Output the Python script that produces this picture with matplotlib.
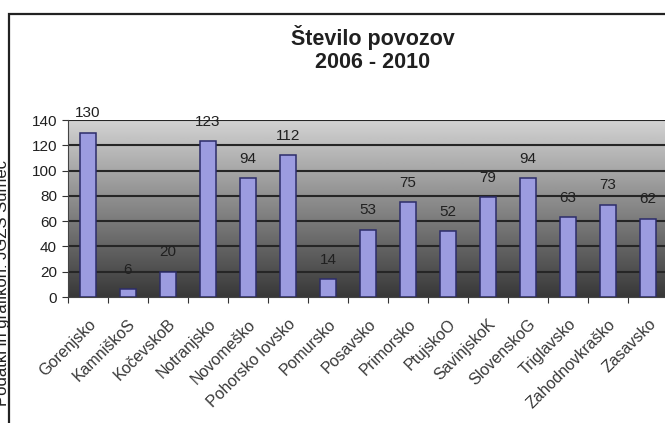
import matplotlib.pyplot as plt
import numpy as np
from matplotlib.patches import Rectangle

plt.rcParams['font.family'] = ['Liberation Sans', 'DejaVu Sans']

# --- data ---
regions = ['Gorenjsko', 'KamniškoS', 'KočevskoB', 'Notranjsko', 'Novomeško',
           'Pohorsko lovsko', 'Pomursko', 'Posavsko', 'Primorsko', 'PtujskoO',
           'SavinjskoK', 'SlovenskoG', 'Triglavsko', 'Zahodnovkraško', 'Zasavsko']
counts = [130, 6, 20, 123, 94, 112, 14, 53, 75, 52, 79, 94, 63, 73, 62]
yticks = [0, 20, 40, 60, 80, 100, 120, 140]

W, H = 665, 423
fig = plt.figure(figsize=(W / 100, H / 100), dpi=100)
fig.patch.set_facecolor('white')

# axes placed in pixel terms, right part runs off the picture like the scan
left, right, top, bottom = 68, 668, 120, 297
ax = fig.add_axes([left / W, 1 - bottom / H, (right - left) / W, (bottom - top) / H])

x = np.arange(len(regions))
ax.set_xlim(-0.5, len(regions) - 0.5)
ax.set_ylim(0, 140)

# grey gradient background
grad = np.linspace(0.22, 0.83, 256).reshape(-1, 1)
ax.imshow(grad, extent=[-0.5, len(regions) - 0.5, 0, 140], origin='lower',
          aspect='auto', cmap='gray', vmin=0, vmax=1, zorder=0)

for yt in yticks[1:]:
    ax.axhline(yt, color='#262626', lw=1.5, zorder=1)

ax.bar(x, counts, width=0.42, color='#9c9ce0', edgecolor='#2c2c6a', lw=1.1, zorder=2)

for xi, c in zip(x, counts):
    ax.text(xi, c + 15.5, str(c), ha='center', va='center', fontsize=11,
            color='#202020', clip_on=False)

ax.set_yticks(yticks)
ax.set_yticklabels([str(v) for v in yticks], fontsize=11, color='#202020')
ax.set_xticks(x - 0.5, minor=False)
ax.set_xticklabels([])
ax.set_xticks(x, minor=True)
ax.set_xticklabels(regions, minor=True, rotation=45, ha='right',
                   rotation_mode='anchor', fontsize=11.5, color='#383838')
ax.tick_params(axis='x', which='minor', length=0, pad=14)
ax.tick_params(axis='x', which='major', length=4, color='#333333')
ax.tick_params(axis='y', length=4, color='#333333', pad=4)
for s in ['top', 'right']:
    ax.spines[s].set_visible(False)
ax.spines['left'].set_color('#444444')
ax.spines['bottom'].set_color('#444444')

# title
fig.text(373 / W, 1 - 38 / H, 'Število povozov', ha='center', va='center',
         fontsize=15.5, fontweight='bold', color='#202020')
fig.text(373 / W, 1 - 62 / H, '2006 - 2010', ha='center', va='center',
         fontsize=15.5, fontweight='bold', color='#202020')

# outer frame
fig.add_artist(Rectangle((9 / W, -0.05), 1.1, 1 - 14 / H + 0.05,
                         transform=fig.transFigure, fill=False,
                         edgecolor='#222222', lw=1.6))

# source note on the left edge
fig.text(3 / W, 1 - 160 / H, 'Podatki in grafikon: JGZS Sumec', rotation=90,
         ha='center', va='top', fontsize=12, color='#202020')

fig.savefig('out.png', dpi=100)
